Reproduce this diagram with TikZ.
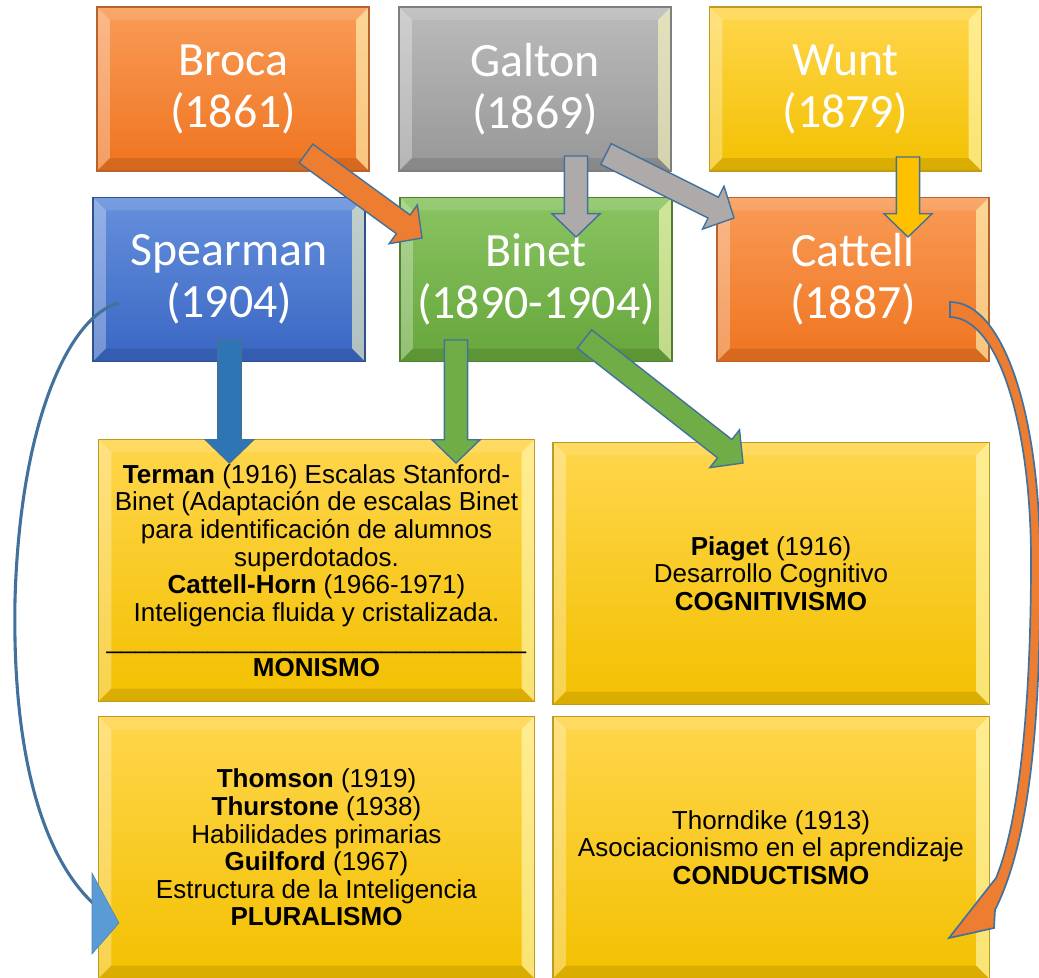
\documentclass[tikz,border=0pt]{standalone}
\usepackage{fontspec}
\setmainfont{Liberation Sans}
\newfontfamily\calibri{Carlito}
\usetikzlibrary{calc,shadings}

\definecolor{orTop}{HTML}{F99B57}
\definecolor{orBot}{HTML}{EF741F}
\definecolor{orLine}{HTML}{B9622B}
\definecolor{grTop}{HTML}{BBBBBB}
\definecolor{grBot}{HTML}{979797}
\definecolor{grLine}{HTML}{7F7F7F}
\definecolor{yeTop}{HTML}{FFD64D}
\definecolor{yeBot}{HTML}{F3C000}
\definecolor{yeLine}{HTML}{BF9A22}
\definecolor{blTop}{HTML}{6690DC}
\definecolor{blBot}{HTML}{3966C3}
\definecolor{blLine}{HTML}{2F528F}
\definecolor{gnTop}{HTML}{8AC462}
\definecolor{gnBot}{HTML}{66A63B}
\definecolor{gnLine}{HTML}{507E32}
\definecolor{arrLine}{HTML}{41719C}
\definecolor{arrOrange}{HTML}{ED7D31}
\definecolor{arrGray}{HTML}{AEAAAA}
\definecolor{arrGold}{HTML}{FFC000}
\definecolor{arrBlue}{HTML}{2E75B6}
\definecolor{arrGreen}{HTML}{70AD47}
\definecolor{headBlue}{HTML}{5B9BD5}

\tikzset{
  bevel/.style={path picture={
    \fill[white,opacity=.12] (path picture bounding box.north west) -- ++(13,13) -- ([shift={(-13,13)}]path picture bounding box.north east) -- (path picture bounding box.north east) -- cycle;
    \fill[white,opacity=.3] (path picture bounding box.north west) -- ++(13,13) -- ([shift={(13,-13)}]path picture bounding box.south west) -- (path picture bounding box.south west) -- cycle;
    \fill[white!75!yellow,opacity=.6] (path picture bounding box.north east) -- ++(-13,13) -- ([shift={(-13,-13)}]path picture bounding box.south east) -- (path picture bounding box.south east) -- cycle;
    \fill[black,opacity=.1] (path picture bounding box.south west) -- ([shift={(13,-13)}]path picture bounding box.south west) -- ([shift={(-13,-13)}]path picture bounding box.south east) -- (path picture bounding box.south east) -- cycle;
  }},
  bevelbox/.style={rectangle, draw=#1Line, top color=#1Top, bottom color=#1Bot, line width=0.8pt, bevel},
  namebox/.style={bevelbox=#1, minimum width=6.8cm, minimum height=4.1cm, text=white, align=center, font={\calibri\fontsize{34}{37}\selectfont}},
  infobox/.style={bevelbox=ye, minimum width=10.9cm, minimum height=6.55cm, align=center, font={\fontsize{18.5}{19.6}\selectfont}},
}

% block arrow: tail, tip, fill
\newcommand{\blockarrow}[3]{%
  \coordinate (ah) at ($(#2)!0.58cm!(#1)$);
  \filldraw[fill=#3, draw=arrLine, line width=1pt, line join=miter]
    ($(#1)!0.29cm!90:(#2)$) -- ($(ah)!0.29cm!90:(#2)$) -- ($(ah)!0.6cm!90:(#2)$) -- (#2)
    -- ($(ah)!0.6cm!-90:(#2)$) -- ($(ah)!0.29cm!-90:(#2)$) -- ($(#1)!0.29cm!-90:(#2)$) -- cycle;
}

\begin{document}
\begin{tikzpicture}[x=0.025cm,y=-0.025cm]
  \useasboundingbox (0,0) rectangle (1039,978);
  % Authors (top rows)
  \node[namebox=or] (broca) at (233,89) {Broca\\(1861)};
  \node[namebox=gr] (galton) at (535,89) {Galton\\(1869)};
  \node[namebox=ye] (wunt) at (845.5,89) {Wunt\\(1879)};
  \node[namebox=bl] (spearman) at (229,279.5) {Spearman\\(1904)};
  \node[namebox=gn] (binet) at (536,279.5) {Binet\\(1890-1904)};
  \node[namebox=or] (cattell) at (853,279.5) {Cattell\\(1887)};
  % Theories
  \node[infobox] (terman) at (316.5,570.5) {\textbf{Terman} (1916) Escalas Stanford-\\Binet (Adaptación de escalas Binet\\para identificación de alumnos\\superdotados.\\\textbf{Cattell-Horn} (1966-1971)\\Inteligencia fluida y cristalizada.\\\_\_\_\_\_\_\_\_\_\_\_\_\_\_\_\_\_\_\_\_\_\_\_\_\_\_\_\_\_\\\textbf{MONISMO}};
  \node[infobox] (piaget) at (771,573.5) {\textbf{Piaget} (1916)\\Desarrollo Cognitivo\\\textbf{COGNITIVISMO}};
  \node[infobox] (thomson) at (316.5,847.5) {\textbf{Thomson} (1919)\\\textbf{Thurstone} (1938)\\Habilidades primarias\\\textbf{Guilford} (1967)\\Estructura de la Inteligencia\\\textbf{PLURALISMO}};
  \node[infobox] (thorndike) at (771,847.5) {Thorndike (1913)\\Asociacionismo en el aprendizaje\\\textbf{CONDUCTISMO}};
  % Arrow ends
  \coordinate (brocaT) at (306,153.5);   \coordinate (brocaH) at (422,238);
  \coordinate (galtonT) at (576,156);    \coordinate (galtonH) at (576,237);
  \coordinate (galtonT2) at (606,154);   \coordinate (galtonH2) at (734,218);
  \coordinate (wuntT) at (908,157);      \coordinate (wuntH) at (908,237);
  \coordinate (spearT) at (229.5,340);   \coordinate (spearH) at (229.5,463);
  \coordinate (binetT) at (456,340);     \coordinate (binetH) at (456,463);
  \coordinate (binetT2) at (584.5,339);  \coordinate (binetH2) at (743,463);
  % Block arrows: {tail/tip/colour}
  \foreach \t/\h/\c in {brocaT/brocaH/arrOrange, galtonT/galtonH/arrGray, galtonT2/galtonH2/arrGray,
      wuntT/wuntH/arrGold, spearT/spearH/arrBlue, binetT/binetH/arrGreen, binetT2/binetH2/arrGreen}
    \blockarrow{\t}{\h}{\c};
  % Spearman -> pluralism
  \coordinate (spearC) at (119,303);
  \coordinate (thomsonC) at (95,905);
  \draw[arrLine, line width=2.2pt] (spearC) .. controls (70,315) and (20,420) .. (15,600)
    .. controls (12,760) and (45,860) .. (thomsonC);
  \filldraw[fill=headBlue, draw=headBlue!85!black, line width=0.4pt] (92,873) -- (119,923) -- (92,954) -- cycle;
  % Cattell -> behaviourism
  \filldraw[fill=arrOrange, draw=arrLine, line width=1.2pt, line join=miter]
    (950,302) .. controls (1005,302) and (1040,420) .. (1040,560)
    .. controls (1041,720) and (1030,840) .. (995,910) -- (994,928) -- (949,938) -- (996,878)
    .. controls (1020,820) and (1031,700) .. (1031,560)
    .. controls (1031,430) and (1000,318) .. (950,317) -- cycle;
\end{tikzpicture}
\end{document}
